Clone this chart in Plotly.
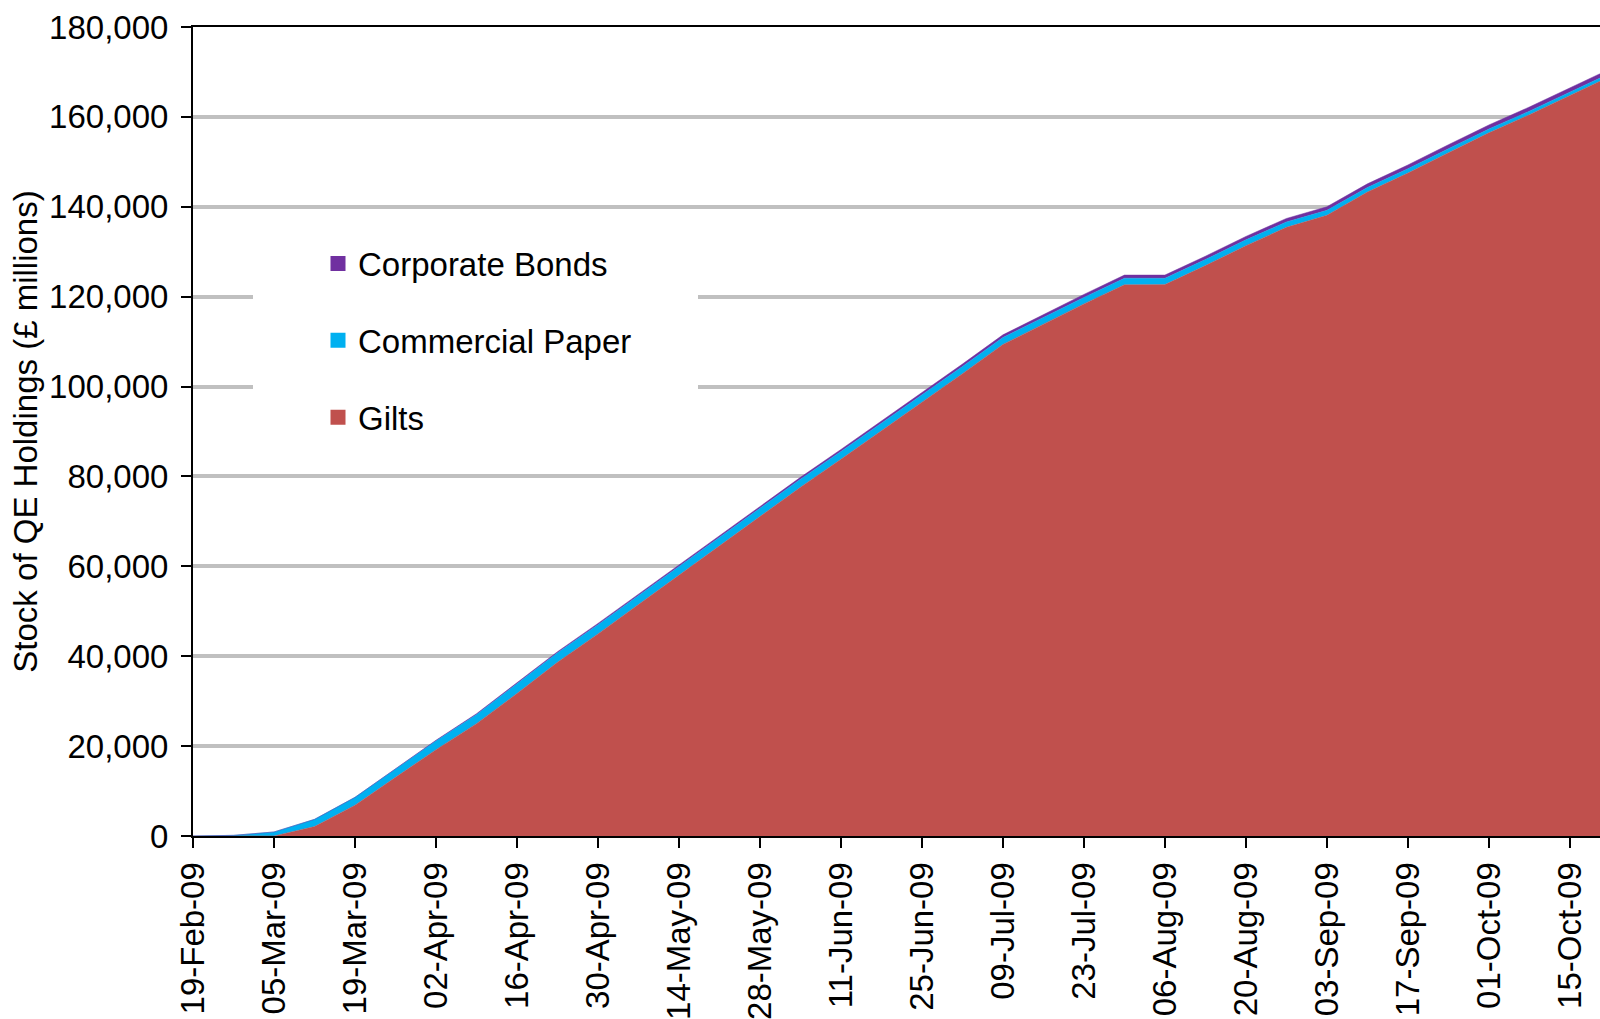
import pandas as pd
import plotly.graph_objects as go

# Weekly observation dates (Thursdays), 19-Feb-09 to 22-Oct-09
dates = pd.date_range("2009-02-19", periods=36, freq="7D")

# Total stock of QE holdings, £ millions
total = [
    0, 150, 900, 3700, 8600, 15000, 21300, 27200, 34000, 41000,
    47300, 53800, 60300, 66900, 73300, 79800, 86000, 92300, 98700, 105000,
    111500, 116000, 120500, 124800, 124800, 129000, 133400, 137400, 140000, 145100,
    149300, 153800, 158200, 162200, 166400, 170700,
]

# Commercial paper holdings, £ millions
commercial_paper = [
    0, 150, 900, 1600, 1750, 1900, 2000, 2050, 2100, 2100,
    2050, 2000, 1950, 1900, 1850, 1800, 1750, 1700, 1650, 1600,
    1550, 1500, 1450, 1450, 1400, 1350, 1300, 1200, 1100, 1000,
    950, 900, 850, 800, 750, 700,
]

# Corporate bond holdings, £ millions
corporate_bonds = [
    0, 0, 0, 0, 0, 50, 100, 150, 200, 250,
    280, 300, 330, 350, 380, 400, 430, 460, 500, 540,
    580, 620, 660, 700, 720, 740, 760, 780, 800, 820,
    850, 880, 900, 920, 950, 970,
]

# Gilts make up the remainder of the total
gilts = [t - c - b for t, c, b in zip(total, commercial_paper, corporate_bonds)]

series = [
    ("Gilts", gilts, "#C0504D"),
    ("Commercial Paper", commercial_paper, "#00B0F0"),
    ("Corporate Bonds", corporate_bonds, "#7030A0"),
]

FONT = "Liberation Sans, Arial, sans-serif"
FS = 33

fig = go.Figure()

# Stacked areas, Gilts at the bottom
for name, vals, color in series:
    fig.add_trace(go.Scatter(
        x=dates, y=vals, name=name, mode="lines",
        stackgroup="qe", line=dict(width=0.5, color=color),
        fillcolor=color, showlegend=False, hoverinfo="x+y+name",
    ))

# Legend entries as small squares, top to bottom
for name, _, color in reversed(series):
    fig.add_trace(go.Scatter(
        x=[None], y=[None], name=name, mode="markers",
        marker=dict(symbol="square", size=15, color=color),
        legendgroup=name, showlegend=True,
    ))

# White panel behind the legend
fig.add_shape(
    type="rect", xref="paper", yref="y",
    x0=(253 - 193) / 1407, x1=(698 - 193) / 1407, y0=85000, y1=135000,
    fillcolor="white", line=dict(width=0), layer="above",
)

fig.update_layout(
    width=1600, height=1019,
    margin=dict(l=193, r=0, t=27, b=183, autoexpand=False),
    paper_bgcolor="white", plot_bgcolor="white",
    font=dict(family=FONT, size=FS, color="black"),
    showlegend=True,
    legend=dict(
        x=(318 - 193) / 1407, y=(836 - 235.5) / 809,
        xanchor="left", yanchor="top",
        bgcolor="rgba(0,0,0,0)", borderwidth=0,
        traceorder="grouped", tracegroupgap=31,
        font=dict(family=FONT, size=FS, color="black"),
        itemsizing="trace",
    ),
    xaxis=dict(
        type="date",
        range=["2009-02-19", "2009-10-20 05:00"],
        tick0="2009-02-19", dtick=14 * 24 * 3600 * 1000,
        tickformat="%d-%b-%y", tickangle=-90,
        ticks="outside", ticklen=10, tickwidth=2, tickcolor="black",
        showline=True, linecolor="black", linewidth=2, mirror=True,
        showgrid=False, zeroline=False, automargin=False,
        ticklabelstandoff=1,
        tickfont=dict(family=FONT, size=FS, color="black"),
    ),
    yaxis=dict(
        range=[0, 180000], dtick=20000, tickformat=",d",
        ticks="outside", ticklen=10, tickwidth=2, tickcolor="black",
        showline=True, linecolor="black", linewidth=2,
        showgrid=True, gridcolor="#C0C0C0", gridwidth=3.5,
        zeroline=False, automargin=False,
        ticklabelstandoff=6,
        tickfont=dict(family=FONT, size=FS, color="black"),
        title=dict(
            text="Stock of QE Holdings (£ millions)",
            font=dict(family=FONT, size=FS, color="black"),
            standoff=2,
        ),
    ),
)

fig.write_html("out.html")
